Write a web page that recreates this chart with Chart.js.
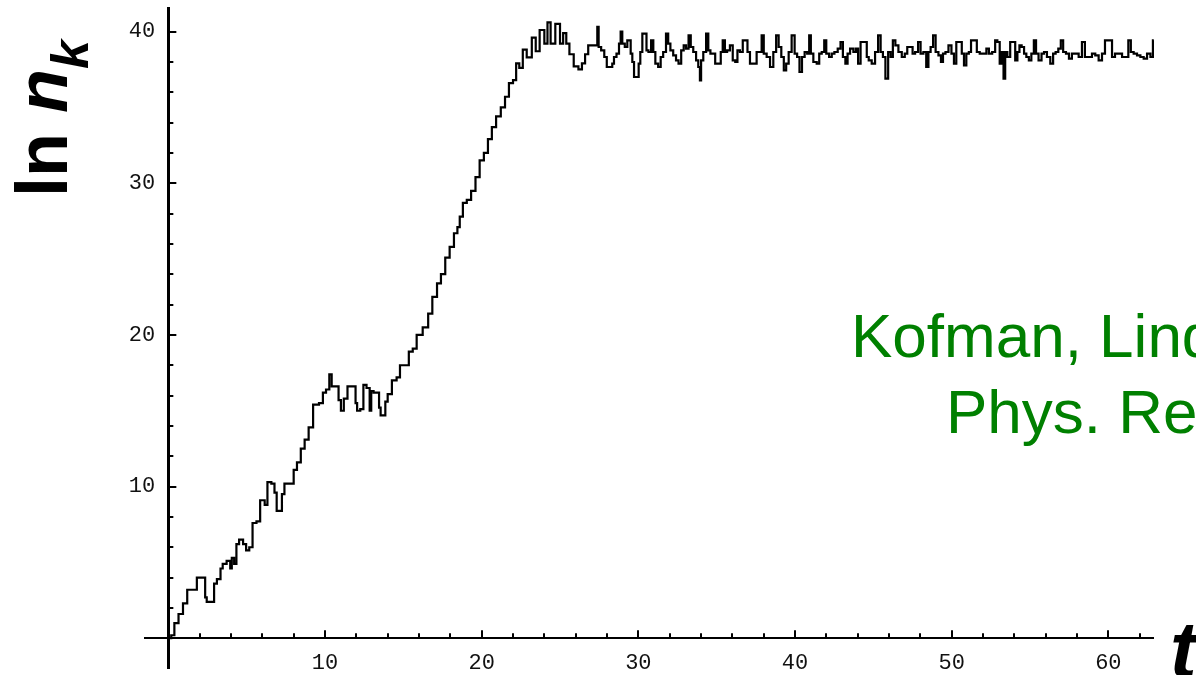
<!DOCTYPE html>
<html>
<head>
<meta charset="utf-8">
<script src="https://cdn.jsdelivr.net/npm/chart.js@4.4.1/dist/chart.umd.min.js"></script>
<style>
  html, body { margin:0; padding:0; background:#ffffff; }
  body { width:1196px; height:675px; overflow:hidden; position:relative; font-family:"Liberation Sans", Arial, sans-serif; }
  #wrap { position:absolute; left:0; top:0; width:1196px; height:675px; }
  .ylab { position:absolute; left:6px; top:197px; transform-origin:0 0; transform:rotate(-90deg);
          font:bold 72px "Liberation Sans", Arial, sans-serif; line-height:72px; white-space:nowrap; color:#000; }
  .ylab .sub { font-size:52px; position:relative; top:21px; }
  .xlab { position:absolute; left:1170px; top:610px; font:italic bold 80px "Liberation Sans", Arial, sans-serif;
          line-height:80px; color:#000; white-space:nowrap; }
  .ref { position:absolute; font:62px "Liberation Sans", Arial, sans-serif; line-height:62px; color:#008000; white-space:nowrap; }
</style>
</head>
<body>
<div id="wrap"><canvas id="c" width="1196" height="675"></canvas></div>
<div class="ylab">ln <i>n</i><i class="sub">k</i></div>
<div class="xlab">t</div>
<div class="ref" style="left:851px; top:305px;">Kofman, Linde, Starobinsky</div>
<div class="ref" style="left:946px; top:381px;">Phys. Rev. Lett.</div>
<script>
// ---- data (t, ln n_k) ----
const timeRise = [
  0.1,0.27,0.5,0.8,1.07,1.34,1.77,1.87,2.3,2.4,
  2.5,2.9,2.94,3.26,3.4,3.54,3.9,4.0,4.1,4.3,
  4.39,4.64,4.9,5.03,5.3,5.45,5.8,5.92,6.1,6.2,
  6.45,6.7,6.85,6.98,7.2,7.3,7.52,7.95,8.05,8.37,
  8.54,8.86,9.05,9.43,9.8,9.93,10.2,10.35,10.5,10.8,
  10.93,11.1,11.3,11.57,11.9,12.0,12.1,12.4,12.5,12.8,
  12.9,13.0,13.2,13.4,13.5,13.6,13.8,13.9,14.1,14.44,
  14.7,14.87,15.2,15.5,15.7,16.0,16.47,16.7,17.0,17.3,
  17.5,17.85,18.06,18.4,18.5,18.7,18.9,19.2,19.45,19.76,
  19.98,20.3,20.5,20.8,21.04,21.4,21.58,21.9,22.1,22.3,
  22.5,22.75,23.0,23.4,23.5,23.9,24.1,24.3,24.5,24.9,
  25.1,25.3,25.5,25.7,26.05,26.3,26.5,26.7
];
const lnNkRise = [
  0,0.2,1.0,1.6,2.3,3.2,3.2,4.0,4.0,2.7,
  2.4,2.4,3.6,3.9,4.6,4.9,5.1,4.6,5.3,4.9,
  6.2,6.5,6.2,5.8,6.0,7.6,7.7,9.1,9.1,8.8,
  10.3,10.2,9.6,8.4,8.4,9.5,10.2,10.2,11.1,11.6,
  12.5,13.1,13.9,15.4,15.5,16.2,16.4,17.4,16.6,16.6,
  15.7,15.0,15.8,16.6,16.6,15.5,15.0,15.1,16.7,16.5,
  15.0,16.3,16.2,16.2,15.2,14.7,14.7,15.6,16.1,17.0,
  17.2,18.0,18.0,18.9,19.1,20.0,20.5,21.4,22.5,23.4,
  24.0,25.1,25.8,26.7,27.1,27.8,28.7,28.9,29.5,30.4,
  31.5,32.0,32.9,33.7,34.4,35.0,35.7,36.6,36.8,37.9,
  37.6,38.8,38.3,39.6,38.7,40.1,39.2,40.6,39.2,40.5,
  39.2,39.9,39.2,38.5,37.7,37.5,37.9,38.5
];
const timeSatA = [
  26.90,27.33,27.43,27.50,27.75,27.90,28.07,28.28,28.39,28.50,
  28.71,28.82,28.92,29.03,29.24,29.35,29.46,29.56,29.67,29.78,
  29.99,30.05,30.20,30.31,30.48,30.56,30.73,30.90,31.01,31.16,
  31.37,31.48,31.69,31.84,31.97,32.12,32.33,32.48,32.65,32.82,
  32.97,33.12,33.29,33.40,33.61,33.76,33.89,33.97,34.04,34.25,
  34.40,34.53,34.67,34.82,34.99,35.21,35.31,35.46,35.59,35.74,
  35.95,36.10,36.27,36.38,36.59,36.74,36.91,37.02,37.23,37.44,
  37.66,37.81,37.93,38.08,38.30,38.51,38.72,38.87,39.04,39.21,
  39.36,39.51,39.68,39.89,40.06,40.21,40.36,40.53,40.70,40.85,
  40.96,41.06,41.28,41.49,41.60,41.81,41.92,42.07,42.28,42.41,
  42.62,42.83,42.98,43.13,43.30,43.41,43.62,43.83,43.94,44.11,
  44.26,44.54,44.62,44.79,45.00,45.22,45.39
];
const lnNkSatA = [
  39.09,39.09,40.30,38.98,38.76,38.32,37.66,37.66,37.88,38.32,
  38.54,39.20,40.00,39.20,38.98,39.42,39.42,38.54,37.99,37.00,
  37.00,37.88,38.65,39.86,39.86,38.76,38.65,39.42,38.65,37.88,
  37.66,38.32,38.65,39.86,39.20,38.76,38.43,38.10,37.88,38.76,
  39.09,38.87,39.75,38.98,38.65,38.10,37.66,36.78,38.10,38.65,
  39.86,38.76,38.54,38.54,37.88,37.88,38.65,39.42,38.65,38.76,
  39.09,38.10,37.99,38.76,38.65,39.42,39.42,38.65,37.88,37.88,
  38.65,38.65,39.75,38.54,38.32,37.66,38.65,39.75,38.98,38.32,
  37.44,37.88,38.65,39.75,38.54,38.32,37.33,38.32,38.65,38.54,
  39.75,38.54,37.99,37.88,38.54,38.65,39.42,38.54,38.32,38.54,
  38.65,38.87,39.31,38.32,37.88,38.54,38.87,38.65,38.87,37.88,
  39.31,39.31,38.32,38.10,37.88,38.65,39.75
];
const timeSatB = [
  45.54,45.68,45.86,46.03,46.17,46.32,46.49,46.71,46.92,47.09,
  47.24,47.45,47.56,47.77,47.94,48.09,48.30,48.45,48.58,48.73,
  48.90,49.05,49.26,49.37,49.52,49.69,49.90,50.07,50.22,50.37,
  50.58,50.71,50.86,51.01,51.18,51.29,51.56,51.65,51.93,52.14,
  52.29,52.46,52.71,52.84,52.99,53.14,53.27,53.35,53.48,53.63,
  53.84,53.99,54.12,54.27,54.38,54.55,54.69,54.84,55.01,55.16,
  55.33,55.44,55.65,55.82,55.97,56.19,56.40,56.55,56.72,56.89,
  57.04,57.19,57.40,57.57,57.78,58.00,58.21,58.42,58.59,58.85,
  59.06,59.27,59.49,59.70,59.87,60.17,60.30,60.55,60.77,60.98,
  61.19,61.36,61.51,61.72,61.94,62.15,62.36,62.58,62.79,62.90,
  63.07,63.32
];
const lnNkSatB = [
  38.65,38.32,36.90,38.65,38.32,39.42,39.09,38.65,38.32,38.54,
  38.98,38.98,38.54,38.65,39.31,38.54,38.65,37.66,38.65,38.98,
  39.75,38.65,38.43,37.99,38.54,38.65,39.09,38.54,37.88,39.31,
  39.31,38.54,37.77,38.54,38.65,39.42,39.42,38.65,38.54,38.54,
  38.87,38.54,38.65,39.42,39.31,37.88,38.65,36.90,38.65,38.32,
  39.31,39.31,38.10,38.65,39.09,38.98,38.54,38.32,38.10,38.54,
  39.42,38.54,38.10,38.54,38.65,38.32,37.88,38.54,38.65,38.87,
  39.42,38.65,38.54,38.21,38.54,38.54,38.32,39.31,38.32,38.32,
  38.54,38.43,38.10,38.54,39.42,39.42,38.32,38.54,38.54,38.32,
  38.32,39.42,38.65,38.54,38.43,38.32,38.21,38.54,38.32,39.42,
  38.32,38.32
];
const xTickLabels = [10, 20, 30, 40, 50, 60];
const yTickLabels = [10, 20, 30, 40];
const xMinorTicks = [2,4,6,8,10,12,14,16,18,20,22,24,26,28,30,32,34,36,38,40,42,44,46,48,50,52,54,56,58,60,62];
const yMinorTicks = [2,4,6,8,10,12,14,16,18,20,22,24,26,28,30,32,34,36,38,40];

const allT = timeRise.concat(timeSatA, timeSatB);
const allV = lnNkRise.concat(lnNkSatA, lnNkSatB);
const points = allT.map((t, i) => ({ x: t, y: allV[i] }));

// inward tick marks drawn through the scales
const innerTicks = {
  id: 'innerTicks',
  afterDraw(chart) {
    const ctx = chart.ctx, xs = chart.scales.x, ys = chart.scales.y;
    const x0 = xs.getPixelForValue(0), y0 = ys.getPixelForValue(0);
    ctx.save();
    ctx.strokeStyle = '#000';
    ctx.lineWidth = 2;
    ctx.beginPath();
    xMinorTicks.forEach(t => {
      const px = Math.round(xs.getPixelForValue(t));
      const len = xTickLabels.includes(t) ? 8 : 5;
      ctx.moveTo(px, y0); ctx.lineTo(px, y0 - len);
    });
    yMinorTicks.forEach(v => {
      const py = Math.round(ys.getPixelForValue(v));
      const len = yTickLabels.includes(v) ? 8 : 5;
      ctx.moveTo(x0, py); ctx.lineTo(x0 + len, py);
    });
    ctx.stroke();
    ctx.restore();
  }
};

const tickFont = { family: '"Liberation Mono", "DejaVu Sans Mono", monospace', size: 22 };
const noPad = s => { s.paddingTop = 0; s.paddingBottom = 0; s.paddingLeft = 0; s.paddingRight = 0; };

new Chart(document.getElementById('c'), {
  type: 'line',
  data: {
    datasets: [{
      data: points,
      borderColor: '#000',
      borderWidth: 2.2,
      pointRadius: 0,
      tension: 0,
      stepped: 'middle',
      fill: false,
      clip: false
    }]
  },
  options: {
    responsive: false,
    animation: false,
    devicePixelRatio: 1,
    layout: { padding: { left: 145, right: 43, top: 8, bottom: 7 } },
    plugins: { legend: { display: false }, tooltip: { enabled: false } },
    scales: {
      x: {
        type: 'linear', min: -1.49, max: 62.85, position: { y: 0 },
        grid: { display: false, drawTicks: false },
        border: { display: true, color: '#000', width: 2 },
        afterBuildTicks: s => { s.ticks = xTickLabels.map(v => ({ value: v })); },
        afterFit: noPad,
        ticks: {
          autoSkip: false, maxRotation: 0, padding: 12, color: '#111', font: tickFont,
          callback: v => String(v)
        }
      },
      y: {
        type: 'linear', min: -1.96, max: 41.55, position: { x: 0 },
        grid: { display: false, drawTicks: false },
        border: { display: true, color: '#000', width: 3 },
        afterBuildTicks: s => { s.ticks = yTickLabels.map(v => ({ value: v })); },
        afterFit: noPad,
        ticks: {
          autoSkip: false, padding: 11, color: '#111', font: tickFont,
          callback: v => String(v) + ' '
        }
      }
    }
  },
  plugins: [innerTicks]
});
</script>
</body>
</html>
